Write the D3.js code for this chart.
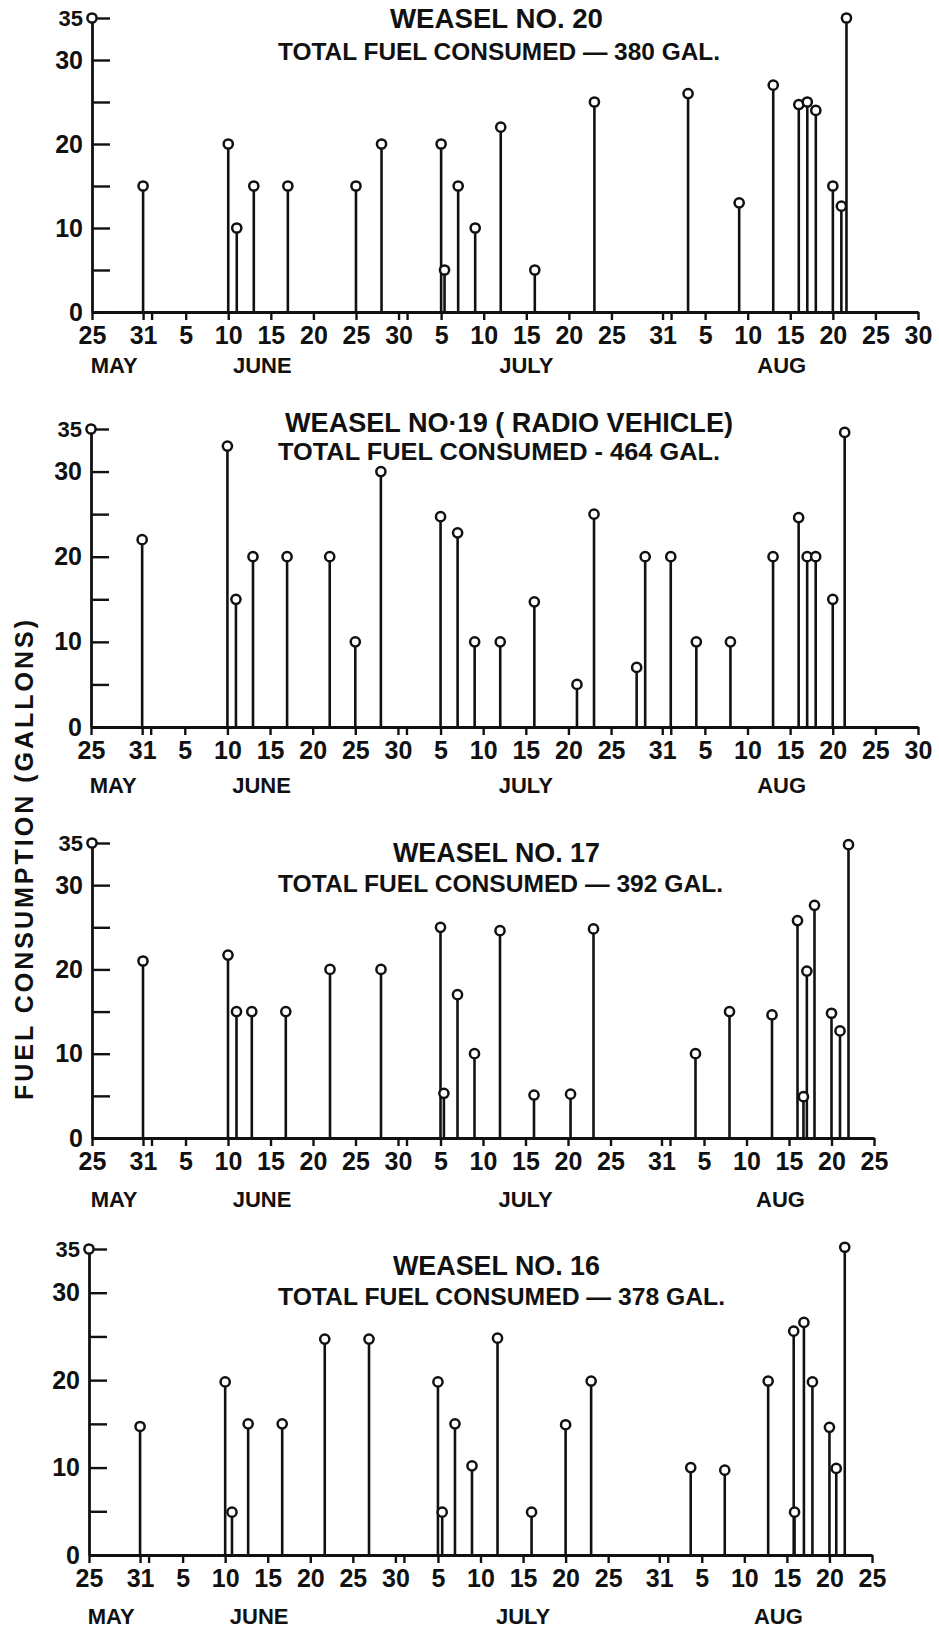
<!DOCTYPE html>
<html>
<head>
<meta charset="utf-8">
<script src="https://cdn.jsdelivr.net/npm/d3@7"></script>
<style>
    body { margin: 0; background: #fff; }
    svg text { font-family: "Liberation Sans", Arial, sans-serif; font-weight: bold; fill: #111; }
</style>
</head>
<body>
<svg id="viz" width="939" height="1630"></svg>
<script>
// year is not shown on the chart, only used to build dates
const YEAR = 1946;

const titles = ["WEASEL NO. 20", "WEASEL NO\u00b719 ( RADIO VEHICLE)", "WEASEL NO. 17", "WEASEL NO. 16"];
const totals = [380, 464, 392, 378];
const dashes = ["\u2014", "-", "\u2014", "\u2014"];

// day of each fill-up ("month/day"), fractions where two stems sit side by side
const weasel20Days = ["5/31", "6/10", "6/11", "6/13", "6/17", "6/25", "6/28", "7/5", "7/5.4", "7/7", "7/9", "7/12", "7/16", "7/23", "8/3", "8/9", "8/13", "8/16", "8/17", "8/18", "8/20", "8/21", "8/21.6"];
const weasel20Gal = [15, 20, 10, 15, 15, 15, 20, 20, 5, 15, 10, 22, 5, 25, 26, 13, 27, 24.7, 25, 24, 15, 12.6, 35];

const weasel19Days = ["5/31", "6/10", "6/11", "6/13", "6/17", "6/22", "6/25", "6/28", "7/5", "7/7", "7/9", "7/12", "7/16", "7/21", "7/23", "7/28", "7/29", "8/1", "8/4", "8/8", "8/13", "8/16", "8/17", "8/18", "8/20", "8/21.4"];
const weasel19Gal = [22, 33, 15, 20, 20, 20, 10, 30, 24.7, 22.8, 10, 10, 14.7, 5, 25, 7, 20, 20, 10, 10, 20, 24.6, 20, 20, 15, 34.6];

const weasel17Days = ["5/31", "6/10", "6/11", "6/12.8", "6/16.8", "6/22", "6/28", "7/5", "7/5.4", "7/7", "7/9", "7/12", "7/16", "7/20.3", "7/23", "8/4", "8/8", "8/13", "8/16", "8/16.7", "8/17.1", "8/18", "8/20", "8/21", "8/22"];
const weasel17Gal = [21, 21.7, 15, 15, 15, 20, 20, 25, 5.3, 17, 10, 24.6, 5.1, 5.2, 24.8, 10, 15, 14.6, 25.8, 4.9, 19.8, 27.6, 14.8, 12.7, 34.8];

const weasel16Days = ["5/31", "6/10", "6/10.8", "6/12.7", "6/16.7", "6/21.7", "6/26.9", "7/5", "7/5.5", "7/7", "7/9", "7/12", "7/16", "7/20", "7/23", "8/3.7", "8/7.7", "8/12.8", "8/15.8", "8/15.9", "8/17", "8/18", "8/20", "8/20.8", "8/21.8"];
const weasel16Gal = [14.7, 19.8, 4.9, 15, 15, 24.7, 24.7, 19.8, 4.9, 15, 10.2, 24.8, 4.9, 14.9, 19.9, 10, 9.7, 19.9, 25.6, 4.9, 26.6, 19.8, 14.6, 9.9, 35.2];

const tickDays = ["5/25", "5/31", "6/1", "6/5", "6/10", "6/15", "6/20", "6/25", "6/30", "7/1", "7/5", "7/10", "7/15", "7/20", "7/25", "7/31", "8/1", "8/5", "8/10", "8/15", "8/20", "8/25", "8/30"];
const yTicks = [0, 5, 10, 15, 20, 25, 30, 35];
const yLabels = [0, 10, 20, 30, 35];
const months = ["MAY", "JUNE", "JULY", "AUG"];
const monthDays = ["5/27.6", "6/14", "7/15", "8/14"];
const yTitle = "FUEL  CONSUMPTION  (GALLONS)";

const series = [
    {days: weasel20Days, gal: weasel20Gal},
    {days: weasel19Days, gal: weasel19Gal},
    {days: weasel17Days, gal: weasel17Gal},
    {days: weasel16Days, gal: weasel16Gal}
];

// where each panel sits on the page
const layout = [
    {x0: 92, x1: 918, end: "8/30", y0: 312, y35: 18, titleX: 390, titleW: 213, titleY: 28, subX: 278, subW: 442, subY: 60, monthY: 373},
    {x0: 91, x1: 918, end: "8/30", y0: 727, y35: 429, titleX: 285, titleW: 448, titleY: 432, subX: 278, subW: 442, subY: 460, monthY: 793},
    {x0: 92, x1: 874, end: "8/25", y0: 1138, y35: 843, titleX: 393, titleW: 207, titleY: 862, subX: 278, subW: 445, subY: 892, monthY: 1207},
    {x0: 89, x1: 872, end: "8/25", y0: 1555, y35: 1249, titleX: 393, titleW: 207, titleY: 1275, subX: 278, subW: 447, subY: 1305, monthY: 1624}
];

function toDate(s) {
    const [m, d] = s.split("/").map(Number);
    const whole = Math.floor(d);
    const t = new Date(YEAR, m - 1, whole);
    return new Date(t.getTime() + (d - whole) * 864e5);
}

const svg = d3.select("#viz");

svg.append("rect").attr("width", 939).attr("height", 1630).attr("fill", "#fff");

layout.forEach(function (L, i) {
    const g = svg.append("g");
    const endDate = toDate(L.end);

    const x = d3.scaleTime()
        .domain([toDate("5/25"), endDate])
        .range([L.x0, L.x1]);
    const y = d3.scaleLinear()
        .domain([0, 35])
        .range([L.y0, L.y35]);

    // x axis
    const xAxis = d3.axisBottom(x)
        .tickValues(tickDays.map(toDate).filter(d => d <= endDate))
        .tickFormat(d => d.getDate() === 1 ? "" : d.getDate())
        .tickSize(8)
        .tickSizeOuter(0)
        .tickPadding(6);
    const gx = g.append("g")
        .attr("transform", "translate(0," + L.y0 + ")")
        .call(xAxis);
    gx.select(".domain").attr("stroke", "#111").attr("stroke-width", 2.8);
    gx.selectAll(".tick line").attr("stroke", "#111").attr("stroke-width", 2.4);
    gx.selectAll(".tick text")
        .attr("fill", "#111")
        .style("font-size", "25px")
        .style("font-family", "Liberation Sans, Arial, sans-serif")
        .style("font-weight", "bold");

    // y axis, ticks pointing into the plot
    const yAxis = d3.axisLeft(y)
        .tickValues(yTicks)
        .tickFormat(d => yLabels.includes(d) ? d : "")
        .tickSize(-18)
        .tickSizeOuter(0)
        .tickPadding(9);
    const gy = g.append("g")
        .attr("transform", "translate(" + L.x0 + ",0)")
        .call(yAxis);
    gy.select(".domain").attr("stroke", "#111").attr("stroke-width", 2.8);
    gy.selectAll(".tick line").attr("stroke", "#111").attr("stroke-width", 2.4);
    gy.selectAll(".tick text")
        .attr("fill", "#111")
        .style("font-size", d => d === 35 ? "22px" : "25px")
        .style("font-family", "Liberation Sans, Arial, sans-serif")
        .style("font-weight", "bold");

    // little ring at the top of the y axis
    g.append("circle")
        .attr("cx", L.x0)
        .attr("cy", y(35))
        .attr("r", 4.6)
        .attr("fill", "#fff")
        .attr("stroke", "#111")
        .attr("stroke-width", 2.5);

    // months
    g.selectAll(".month")
        .data(months)
        .join("text")
        .attr("class", "month")
        .attr("x", (d, j) => x(toDate(monthDays[j])))
        .attr("y", L.monthY)
        .attr("text-anchor", "middle")
        .style("font-size", "22px")
        .text(d => d);

    // stems
    const s = series[i];
    const pts = s.days.map((d, j) => ({date: toDate(d), gal: s.gal[j]}));

    g.selectAll(".stem")
        .data(pts)
        .join("line")
        .attr("class", "stem")
        .attr("x1", d => x(d.date))
        .attr("x2", d => x(d.date))
        .attr("y1", y(0))
        .attr("y2", d => y(d.gal))
        .attr("stroke", "#111")
        .attr("stroke-width", 2.6);

    g.selectAll(".dot")
        .data(pts)
        .join("circle")
        .attr("class", "dot")
        .attr("cx", d => x(d.date))
        .attr("cy", d => y(d.gal))
        .attr("r", 4.6)
        .attr("fill", "#fff")
        .attr("stroke", "#111")
        .attr("stroke-width", 2.5);

    // titles
    g.append("text")
        .attr("x", L.titleX)
        .attr("y", L.titleY)
        .attr("textLength", L.titleW)
        .attr("lengthAdjust", "spacingAndGlyphs")
        .style("font-size", "28px")
        .text(titles[i]);

    g.append("text")
        .attr("x", L.subX)
        .attr("y", L.subY)
        .attr("textLength", L.subW)
        .attr("lengthAdjust", "spacingAndGlyphs")
        .style("font-size", "24px")
        .text("TOTAL  FUEL  CONSUMED " + dashes[i] + " " + totals[i] + " GAL.");
});

// shared y title
svg.append("text")
    .attr("transform", "translate(33,1100) rotate(-90)")
    .attr("textLength", 480)
    .attr("lengthAdjust", "spacing")
    .style("font-size", "25px")
    .text(yTitle);
</script>
</body>
</html>
